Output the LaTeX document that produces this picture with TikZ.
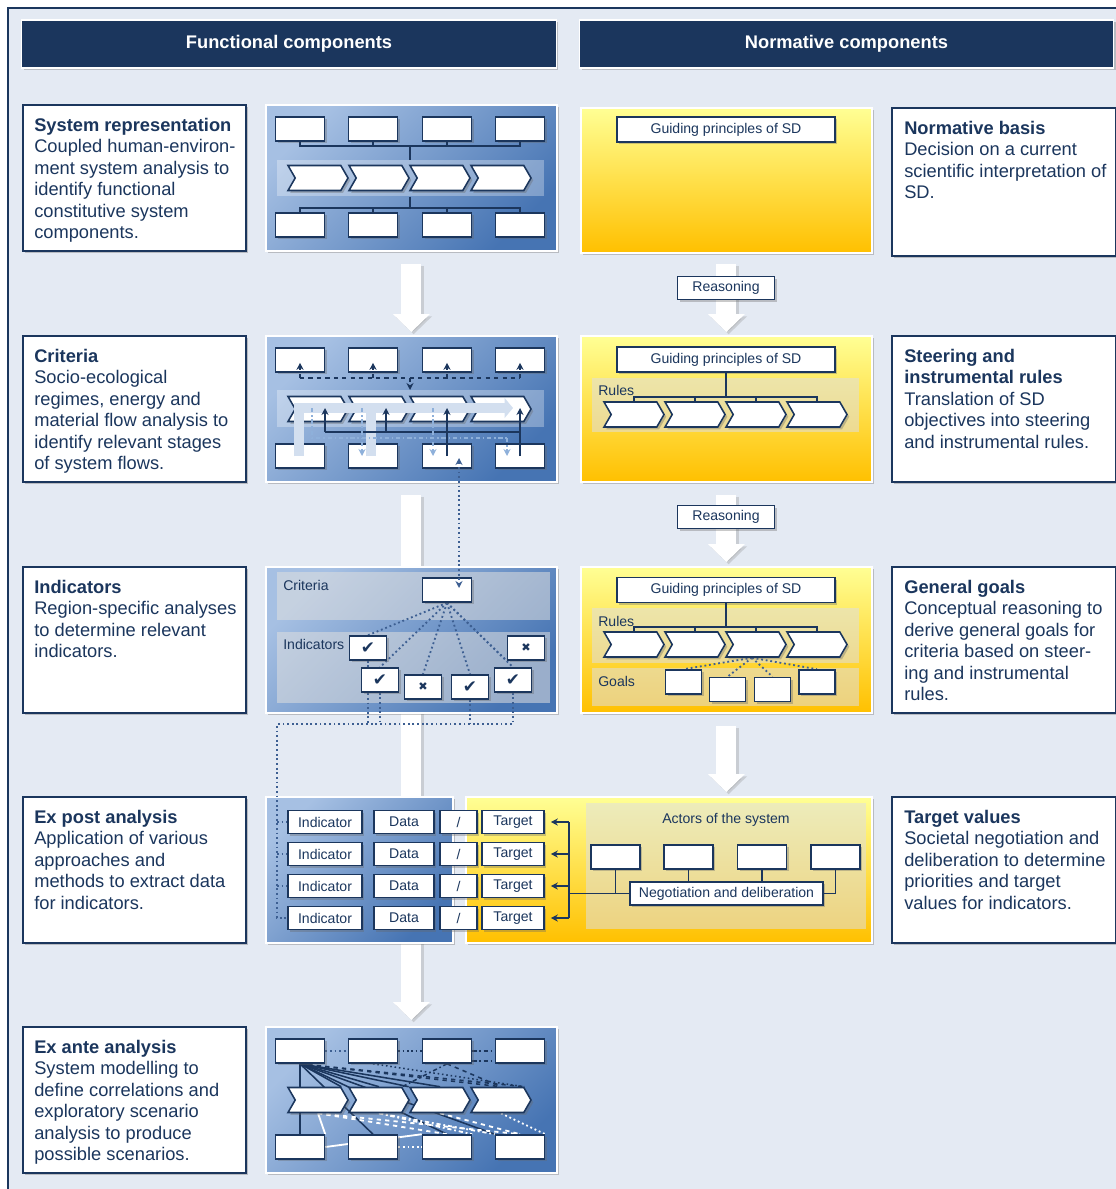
\documentclass[tikz,border=0pt]{standalone}
\usepackage{fontspec}
\setmainfont{Liberation Sans}
\newfontfamily\dejavu{DejaVu Sans}
\usetikzlibrary{positioning,calc,arrows.meta,shapes.symbols,shadows}
\definecolor{navy}{HTML}{1B365D}
\definecolor{framebg}{HTML}{E4EAF3}
\definecolor{blueLight}{HTML}{A6C0E3}
\definecolor{blueDark}{HTML}{4674B3}
\definecolor{yelLight}{HTML}{FFFF94}
\definecolor{yelDark}{HTML}{FFC000}
\definecolor{flowPale}{HTML}{D3DFEF}
\definecolor{flowDash}{HTML}{8EB0DA}
\definecolor{dotBlue}{HTML}{3D5F92}
\pgfdeclarelayer{bg}
\pgfdeclarelayer{arrowlayer}
\pgfdeclarelayer{panels}
\pgfdeclarelayer{lines}
\pgfsetlayers{bg,arrowlayer,panels,lines,main}
\tikzset{
every node/.style={font=\fontsize{10}{12}\selectfont, text=navy},
softshadow/.style={drop shadow={shadow xshift=1.6pt, shadow yshift=-1.6pt, opacity=.35, fill=black!60}},
header/.style={fill=navy, draw=white, line width=.8pt, text=white, font=\bfseries\fontsize{13}{15}\selectfont, minimum width=13.35cm, minimum height=1.2cm, softshadow},
txtbox/.style={draw=navy, line width=1.2pt, fill=white, minimum width=5.575cm, minimum height=3.65cm, anchor=north west, softshadow},
txt/.style={align=left, anchor=north west, inner sep=0pt, font=\fontsize{13}{15.25}\selectfont},
lbl/.style={anchor=north west, inner sep=0pt},
bluepanel/.style={draw=white, line width=1.2pt, top color=blueLight, bottom color=blueDark, shading angle=45, minimum width=7.275cm, minimum height=3.65cm, anchor=north west, inner sep=0pt, softshadow},
yellowpanel/.style={draw=white, line width=1.2pt, top color=yelLight, bottom color=yelDark, minimum width=7.275cm, minimum height=3.65cm, anchor=north west, inner sep=0pt, softshadow},
band/.style={fill=white, fill opacity=.3, minimum width=6.675cm, minimum height=0.9cm, anchor=north west, inner sep=0pt},
strip/.style={fill=white!75!gray, fill opacity=.55, anchor=north west, inner sep=0pt},
sbox/.style={draw=navy, line width=1.1pt, fill=white, minimum width=1.225cm, minimum height=0.6cm, inner sep=0pt, softshadow},
lbox/.style={sbox, minimum width=#1, minimum height=0.575cm},
chev/.style={shape=signal, signal to=east, signal from=west, signal pointer angle=120, draw=navy, line width=1.1pt, fill=white, minimum width=1.5cm, minimum height=0.625cm, inner sep=0pt, softshadow},
conn/.style={draw=navy, line width=1.1pt},
dconn/.style={conn, dashed},
ddconn/.style={draw=flowDash, line width=1.1pt, dash dot},
dotconn/.style={draw=dotBlue, line width=1.3pt, dotted},
whiteconn/.style={draw=white, line width=1.3pt},
arr/.style={-{Stealth[length=5pt,width=5pt]}},
flowline/.style={draw=flowPale, line width=7.5pt},
flowarrow/.style={flowline, -{Triangle[length=6pt,width=14pt]}},
bigarrow/.style={draw=white, line width=14.2pt, -{Triangle[length=12.8pt,width=25.5pt]}},
bigshadow/.style={draw=black!45, opacity=.3, line width=14.2pt, -{Triangle[length=12.8pt,width=25.5pt]}, transform canvas={shift={(1.6pt,-1.6pt)}}},
}
\newcommand{\checkmk}{{\dejavu\fontsize{12}{12}\selectfont ✔}}
\newcommand{\crossmk}{{\dejavu\fontsize{8}{8}\selectfont ✖}}
% boxes and chevrons of one system panel
\newcommand{\flowboxes}[1]{%
  \foreach \i/\x in {1/300,2/373,3/447,4/520}{%
    \node[sbox] (#1t\i) at (\x,25) {};
    \node[sbox] (#1b\i) at (\x,121) {};
  }
  \foreach \i/\x in {1/318,2/379,3/440,4/501}{%
    \node[chev] (#1c\i) at (\x,74) {};
  }
}

\begin{document}
\begin{tikzpicture}[x=0.025cm, y=-0.025cm]
\useasboundingbox (0,0) rectangle (1116,1189);

\begin{pgfonlayer}{bg}
  \fill[white] (0,0) rectangle (1116,1189);
  \fill[framebg] (8,8) rectangle (1116,1189);
  \draw[navy, line width=1.2pt] (8,1189) -- (8,8) -- (1116,8);
\end{pgfonlayer}

% column headers
\node[header] (funcHead) at (289,44) {Functional components};
\node[header] (normHead) at (846.5,44) {Normative components};

% description boxes
\node[txtbox] (sysBox) at (22,104) {};
\node[txt] (sysTxt) at (34,118) {\textbf{System representation}\\Coupled human-environ-\\ment system analysis to\\identify functional\\constitutive system\\components.};
\node[txtbox] (critBox) at (22,335) {};
\node[txt] (critTxt) at (34,349) {\textbf{Criteria}\\Socio-ecological\\regimes, energy and\\material flow analysis to\\identify relevant stages\\of system flows.};
\node[txtbox] (indBox) at (22,566) {};
\node[txt] (indTxt) at (34,580) {\textbf{Indicators}\\Region-specific analyses\\to determine relevant\\indicators.};
\node[txtbox] (postBox) at (22,796) {};
\node[txt] (postTxt) at (34,810) {\textbf{Ex post analysis}\\Application of various\\approaches and\\methods to extract data\\for indicators.};
\node[txtbox] (anteBox) at (22,1026) {};
\node[txt] (anteTxt) at (34,1040) {\textbf{Ex ante analysis}\\System modelling to\\define correlations and\\exploratory scenario\\analysis to produce\\possible scenarios.};

\node[txtbox, minimum width=5.6cm, minimum height=3.7cm] (normBox) at (891,107) {};
\node[txt] (normTxt) at (904,121) {\textbf{Normative basis}\\Decision on a current\\scientific interpretation of\\SD.};
\node[txtbox, minimum width=5.6cm] (ruleBox) at (891,335) {};
\node[txt] (ruleTxt) at (904,349) {\textbf{Steering and}\\\textbf{instrumental rules}\\Translation of SD\\objectives into steering\\and instrumental rules.};
\node[txtbox, minimum width=5.6cm] (goalBox) at (891,566) {};
\node[txt] (goalTxt) at (904,580) {\textbf{General goals}\\Conceptual reasoning to\\derive general goals for\\criteria based on steer-\\ing and instrumental\\rules.};
\node[txtbox, minimum width=5.6cm] (tgtBox) at (891,796) {};
\node[txt] (tgtTxt) at (904,810) {\textbf{Target values}\\Societal negotiation and\\deliberation to determine\\priorities and target\\values for indicators.};

% panels and strips
\begin{pgfonlayer}{panels}
  \node[bluepanel] (sysPanel) at (265,104) {};
  \node[band] (sysBand) at (277,160) {};
  \node[bluepanel] (critPanel) at (265,335) {};
  \node[band, minimum height=0.925cm] (critBand) at (277,390) {};
  \node[bluepanel] (indPanel) at (265,566) {};
  \node[strip, minimum width=6.825cm, minimum height=1.2cm] (indCritStrip) at (277,572) {};
  \node[strip, minimum width=6.825cm, minimum height=1.775cm] (indIndStrip) at (277,632) {};
  \node[bluepanel, minimum width=4.675cm] (postPanel) at (265,796) {};
  \node[yellowpanel, minimum width=10.15cm] (tgtPanel) at (465,796) {};
  \node[strip, minimum width=7cm, minimum height=3.15cm] (actorStrip) at (586,803) {};
  \node[bluepanel] (antePanel) at (265,1026) {};
  \node[yellowpanel, minimum height=3.625cm] (normPanel) at (580,107) {};
  \node[yellowpanel] (rulePanel) at (580,335) {};
  \node[strip, minimum width=6.675cm, minimum height=1.35cm] (ruleStrip) at (592,378) {};
  \node[yellowpanel] (goalPanel) at (580,566) {};
  \node[strip, minimum width=6.675cm, minimum height=1.375cm] (goalRuleStrip) at (592,608) {};
  \node[strip, minimum width=6.675cm, minimum height=0.95cm] (goalStrip) at (592,668) {};
\end{pgfonlayer}

% big white arrows
\coordinate (tgtTop) at (goalPanel.south |- tgtPanel.north);
\begin{pgfonlayer}{arrowlayer}
  \foreach \sty in {bigshadow,bigarrow}{
    \draw[\sty] ($(sysPanel.south)+(0,12)$) -- ($(critPanel.north)+(0,-3)$);
    \draw[\sty] ($(critPanel.south)+(0,12)$) -- ($(antePanel.north)+(0,-6)$);
    \draw[\sty] ($(normPanel.south)+(0,10)$) -- ($(rulePanel.north)+(0,-3)$);
    \draw[\sty] ($(rulePanel.south)+(0,12)$) -- ($(goalPanel.north)+(0,-4)$);
    \draw[\sty] ($(goalPanel.south)+(0,12)$) -- ($(tgtTop)+(0,-4)$);
  }
\end{pgfonlayer}
\node[lbox=2.425cm] (reason1) at (726,288) {Reasoning};
\node[lbox=2.425cm] (reason2) at (726,517) {Reasoning};

% system representation
\begin{scope}[shift={(0,104)}]
  \flowboxes{sys}
  \coordinate (sysTopJoin) at (410,42);
  \coordinate (sysBotJoin) at (410,104);
\end{scope}
\draw[conn] (syst1.south) |- (sysTopJoin) -| (syst4.south);
\foreach \i in {2,3} \draw[conn] (syst\i.south) -- (syst\i.south |- sysTopJoin);
\draw[conn] (sysTopJoin) -- (sysTopJoin |- sysBand.north);
\draw[conn] (sysBand.south -| sysBotJoin) -- (sysBotJoin);
\draw[conn] (sysb1.north) |- (sysBotJoin) -| (sysb4.north);
\foreach \i in {2,3} \draw[conn] (sysb\i.north) -- (sysb\i.north |- sysBotJoin);

% criteria
\begin{scope}[shift={(0,335)}]
  \flowboxes{crit}
  \coordinate (critDash) at (410,43);
  \coordinate (critSolidL) at (325,97);
  \coordinate (critSolidM) at (386,97);
  \coordinate (critSolidR) at (519,97);
  \coordinate (critDotL) at (312,103);
  \coordinate (critDotR) at (507,103);
  \coordinate (critDD2) at (362,73);
  \coordinate (critDD3) at (433,73);
  \coordinate (critFlowEnd) at (513,73);
\end{scope}
\draw[dconn] (critt1.south |- critDash) -- (critt4.south |- critDash);
\foreach \i in {1,...,4} \draw[dconn, arr] (critt\i.south |- critDash) -- ($(critt\i.south)+(0,-10)$);
\draw[dconn, arr] (critDash) -- (critDash |- critBand.north);
\draw[flowarrow] ($(critb1.center)+(-1,0)$) |- (critFlowEnd);
\draw[flowline] ($(critb2.center)+(-2,0)$) -- ($(critb2.center |- critFlowEnd)+(-2,0)$);
\draw[conn] (critSolidL) -- (critSolidR);
\draw[conn, arr] (critSolidL) -- (critSolidL |- critFlowEnd);
\draw[conn, arr] (critSolidM) -- (critSolidM |- critFlowEnd);
\draw[conn, arr] (critb3.center) -- (critb3.center |- critFlowEnd);
\draw[conn, arr] (critb4.center) -- (critb4.center |- critFlowEnd);
\draw[ddconn] (critDotL |- critFlowEnd) -- (critDotL) -- (critDotR);
\draw[ddconn, arr] (critDotR) -- (critDotR |- critb4.center);
\draw[ddconn, arr] (critDD2) -- (critDD2 |- critb2.center);
\draw[ddconn, arr] (critDD3) -- (critDD3 |- critb3.center);

% indicators
\node[lbl] (indCritLbl) at (283,580) {Criteria};
\node[lbl] (indIndLbl) at (283,639) {Indicators};
\node[sbox] (indCrit) at (447,590) {};
\node[sbox, minimum width=0.925cm] (ind1) at (368,648) {\checkmk};
\node[sbox, minimum width=0.925cm] (ind2) at (380,680) {\checkmk};
\node[sbox, minimum width=0.925cm] (ind3) at (423,687) {\crossmk};
\node[sbox, minimum width=0.925cm] (ind4) at (470,687) {\checkmk};
\node[sbox, minimum width=0.925cm] (ind5) at (513,680) {\checkmk};
\node[sbox, minimum width=0.925cm] (ind6) at (526,648) {\crossmk};
\begin{pgfonlayer}{lines}
  \foreach \j in {1,...,5} \draw[dotconn] (indCrit.south) -- (ind\j.north);
  \draw[dotconn] (indCrit.south) -- (ind6.south west);
\end{pgfonlayer}
\draw[dotconn, {Stealth[length=5pt,width=5pt]}-{Stealth[length=5pt,width=5pt]}] ($(critb3.center)+(12,2)$) -- ($(indCrit.center)+(12,-2)$);

% ex post analysis
\foreach \k/\y in {1/822,2/854,3/886,4/918}{
  \node[lbox=1.85cm] (ep\k) at (325,\y) {Indicator};
  \node[lbox=1.5cm] (data\k) at (404,\y) {Data};
  \node[lbox=0.925cm] (slash\k) at (458.5,\y) {/};
  \node[lbox=1.55cm] (tgt\k) at (513,\y) {Target};
}
\coordinate (indBus) at (277,724);
\begin{pgfonlayer}{lines}
  \draw[dotconn] (ind5.south) |- (indBus) |- (ep4.west);
  \foreach \j in {1,2,4} \draw[dotconn] (ind\j.south) -- (ind\j.south |- indBus);
  \foreach \k in {1,2,3} \draw[dotconn] (indBus |- ep\k.west) -- (ep\k.west);
\end{pgfonlayer}

% target values
\node (actorLbl) at (726,820) {Actors of the system};
\foreach \k/\x in {1/615.5,2/688.5,3/762,4/835.5} \node[sbox] (act\k) at (\x,857) {};
\node[lbox=4.825cm] (negBox) at (726.5,893.5) {Negotiation and deliberation};
\coordinate (tgtBus) at ($(tgt1.east)+(24,0)$);
\draw[conn] (tgtBus) -- ($(tgt4.east)+(24,0)$);
\foreach \k in {1,...,4} \draw[conn, arr] ($(tgt\k.east)+(24,0)$) -- ($(tgt\k.east)+(6,0)$);
\draw[conn] (negBox.west) -- (negBox.west -| tgtBus);
\draw[conn] (act1.south) -- (act1.south |- negBox.west);
\draw[conn] (act2.south) -- (act2.south |- negBox.north);
\draw[conn] (act3.south) -- (act3.south |- negBox.north);
\draw[conn] (act4.south) |- (negBox.east);

% ex ante analysis
\begin{scope}[shift={(0,1026)}]
  \flowboxes{ante}
\end{scope}
\begin{pgfonlayer}{lines}
  \draw[dotconn] (antet1.east) -- (antet2.west);
  \draw[conn, dotted] (antet2.east) -- (antet3.west);
  \draw[conn, dash dot] (antet3.east) -- (antet4.west);
  \draw[conn, dash dot] ($(antet3.south east)+(0,-3)$) -- ($(antet4.south west)+(0,-3)$);
  \draw[conn] (antet1.south) -- (anteb1.north);
  \foreach \tgt in {antec1.north east,antec2.north,antec3.north west,antec3.north,anteb2.north,anteb3.north,anteb4.north west}
    \draw[conn] (antet1.south) -- (\tgt);
  \draw[dconn] (antet1.south) -- (antec4.north);
  \draw[dconn] (antet1.south) -- (antec4.north east);
  \draw[conn, dotted] (antet2.south) -- (antec4.north east);
  \draw[dconn] (antet3.south) -- (antec4.north);
  \draw[conn, dash dot] (antet3.south) -- (antec2.north east);
  \draw[whiteconn] (anteb1.north east) -- (antec1.south);
  \draw[whiteconn] (anteb1.east) -- (anteb3.north west);
  \draw[whiteconn, dotted] (anteb2.east) -- (anteb3.west);
  \draw[whiteconn, dashed] (antec1.south) -- (anteb3.north);
  \draw[whiteconn, dashed] (antec1.south) -- (anteb4.north);
  \draw[whiteconn, dash dot] (antec2.south) -- (anteb4.north west);
  \draw[whiteconn, dash dot] (antec2.south) -- (anteb3.north east);
  \draw[whiteconn, dashed] (antec3.south) -- (anteb4.north);
  \draw[whiteconn, dotted] (antec4.south) -- (anteb4.north east);
\end{pgfonlayer}

% normative basis
\node[lbox=5.45cm, minimum height=0.625cm] (normGuide) at (726,129.5) {Guiding principles of SD};

% steering and instrumental rules
\node[lbl] (ruleLbl) at (598,385) {Rules};
\node[lbox=5.45cm, minimum height=0.625cm] (ruleGuide) at (726,359.5) {Guiding principles of SD};
\foreach \k/\x in {1/634,2/695,3/756,4/817} \node[chev] (ruleChev\k) at (\x,414.5) {};
\coordinate (ruleJoin) at (726,397);
\draw[conn] (ruleGuide.south) -- (ruleJoin);
\draw[conn] (ruleChev1.north) |- (ruleJoin) -| (ruleChev4.north);
\foreach \k in {2,3} \draw[conn] (ruleChev\k.north) -- (ruleChev\k.north |- ruleJoin);

% general goals
\node[lbl] (goalRuleLbl) at (598,616) {Rules};
\node[lbl] (goalLbl) at (598,676) {Goals};
\node[lbox=5.45cm, minimum height=0.625cm] (goalGuide) at (726,590) {Guiding principles of SD};
\foreach \k/\x in {1/634,2/695,3/756,4/817} \node[chev] (goalChev\k) at (\x,644.5) {};
\coordinate (goalJoin) at (726,627);
\draw[conn] (goalGuide.south) -- (goalJoin);
\draw[conn] (goalChev1.north) |- (goalJoin) -| (goalChev4.north);
\foreach \k in {2,3} \draw[conn] (goalChev\k.north) -- (goalChev\k.north |- goalJoin);
\node[sbox, minimum width=0.9cm] (goal1) at (683.5,682) {};
\node[sbox, minimum width=0.9cm] (goal2) at (727.5,689.5) {};
\node[sbox, minimum width=0.9cm] (goal3) at (772.5,689.5) {};
\node[sbox, minimum width=0.9cm] (goal4) at (817,682) {};
\begin{pgfonlayer}{lines}
  \foreach \k in {1,...,4} \draw[dotconn] ($(goalChev3.south)+(-4,0)$) -- (goal\k.north);
\end{pgfonlayer}
\end{tikzpicture}
\end{document}
